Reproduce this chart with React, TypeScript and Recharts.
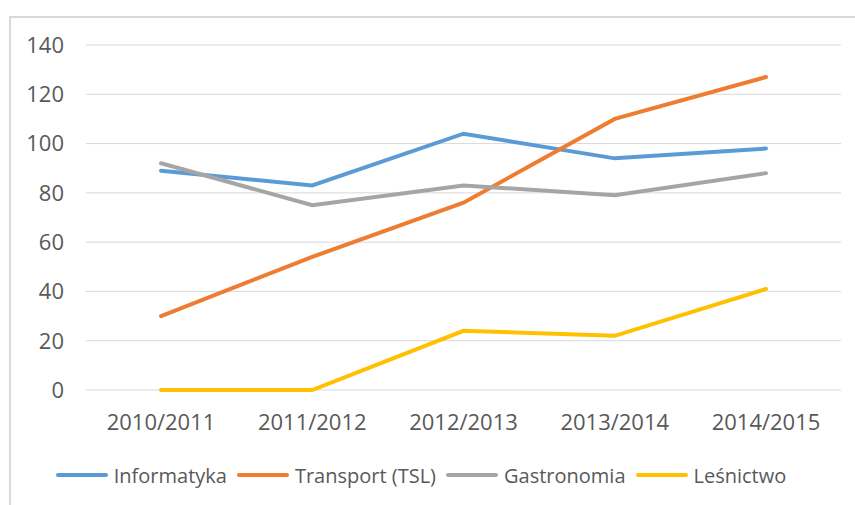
import { CartesianGrid, Legend, Line, LineChart, XAxis, YAxis } from "recharts"

const years = ["2010/2011", "2011/2012", "2012/2013", "2013/2014", "2014/2015"]
const informatyka = [89, 83, 104, 94, 98]
const transport = [30, 54, 76, 110, 127]
const gastronomia = [92, 75, 83, 79, 88]
const lesnictwo = [0, 0, 24, 22, 41]
const yTicks = [0, 20, 40, 60, 80, 100, 120, 140]

const series = [
  { key: "Informatyka", color: "#5B9BD5" },
  { key: "Transport (TSL)", color: "#ED7D31" },
  { key: "Gastronomia", color: "#A5A5A5" },
  { key: "Leśnictwo", color: "#FFC000" },
]

const data = years.map((y, i) => ({
  year: y,
  Informatyka: informatyka[i],
  "Transport (TSL)": transport[i],
  Gastronomia: gastronomia[i],
  Leśnictwo: lesnictwo[i],
}))

const font = "'Open Sans', sans-serif"
const textColor = "#595959"

function LegendBox() {
  return (
    <div
      style={{
        display: "flex",
        justifyContent: "center",
        alignItems: "center",
        height: 60,
        fontFamily: font,
        fontSize: 20,
        color: textColor,
      }}
    >
      {series.map((s, i) => (
        <div
          key={s.key}
          style={{ display: "flex", alignItems: "center", marginRight: i < series.length - 1 ? 9 : 0 }}
        >
          <svg width={54} height={6} style={{ marginRight: 5 }}>
            <line x1={3} y1={3} x2={51} y2={3} stroke={s.color} strokeWidth={4} strokeLinecap="round" />
          </svg>
          <span>{s.key}</span>
        </div>
      ))}
    </div>
  )
}

export default function App() {
  return (
    <div
      style={{
        position: "absolute",
        left: 0,
        top: 0,
        width: 855,
        height: 505,
        overflow: "hidden",
        background: "#fff",
      }}
    >
      <div
        style={{
          position: "absolute",
          left: 9,
          top: 16,
          width: 900,
          height: 600,
          border: "2px solid #d9d9d9",
        }}
      />
      <div style={{ position: "absolute", left: 0, top: 0 }}>
        <LineChart
          width={855}
          height={505}
          data={data}
          margin={{ top: 45, right: 14, left: 0, bottom: 0 }}
        >
          <CartesianGrid vertical={false} stroke="#d9d9d9" strokeWidth={1} />
          <XAxis
            dataKey="year"
            axisLine={false}
            tickLine={false}
            tickSize={0}
            tickMargin={24}
            height={55}
            padding={{ left: 75, right: 75 }}
            tick={{ fill: textColor, fontSize: 22, fontFamily: font }}
          />
          <YAxis
            domain={[0, 140]}
            ticks={yTicks}
            axisLine={false}
            tickLine={false}
            tickSize={0}
            tickMargin={22}
            width={86}
            tick={{ fill: textColor, fontSize: 22, fontFamily: font }}
          />
          <Legend verticalAlign="bottom" content={() => <LegendBox />} wrapperStyle={{ height: 60 }} />
          {series.map((s) => (
            <Line
              key={s.key}
              type="linear"
              dataKey={s.key}
              stroke={s.color}
              strokeWidth={4}
              strokeLinecap="round"
              dot={false}
              activeDot={false}
              isAnimationActive={false}
            />
          ))}
        </LineChart>
      </div>
    </div>
  )
}
